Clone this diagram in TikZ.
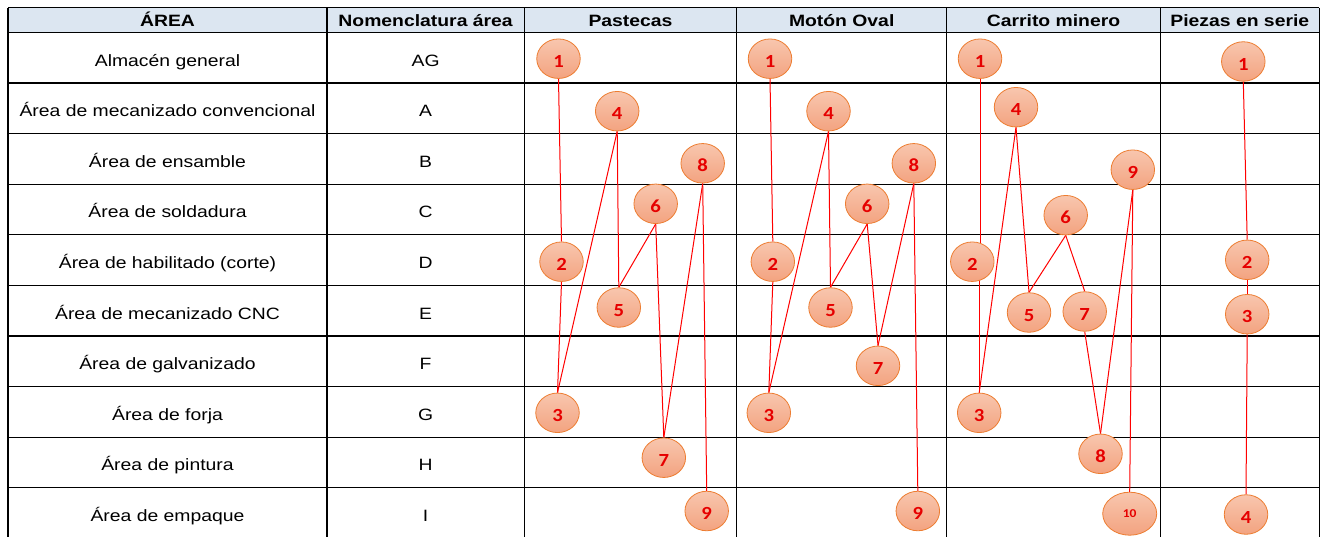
\documentclass[tikz,border=0pt]{standalone}
\usepackage{fontspec}
\setmainfont{Liberation Sans}[FakeStretch=1.18]
\newfontfamily\numfont{Carlito}[FakeStretch=1.12]
\usetikzlibrary{shapes.geometric}
\pgfdeclarelayer{back}
\pgfdeclarelayer{links}
\pgfsetlayers{back,links,main}
\definecolor{hdr}{RGB}{220,230,241}
\definecolor{ebord}{RGB}{237,125,49}
\definecolor{etop}{RGB}{248,198,174}
\definecolor{ebot}{RGB}{243,163,128}
\definecolor{numred}{RGB}{230,0,0}
\definecolor{flow}{RGB}{255,0,0}
\begin{document}
\begin{tikzpicture}[x=1pt,y=-1pt,
  gridline/.style={draw=black,line width=1.2pt},
  celltext/.style={anchor=base,font=\fontsize{16.4}{18}\selectfont,inner sep=0},
  hdrtext/.style={anchor=base,font=\fontsize{16.4}{18}\selectfont\bfseries,inner sep=0},
  stp/.style={ellipse,draw=ebord,line width=0.8pt,top color=etop,bottom color=ebot,
    minimum width=43.5pt,minimum height=39.5pt,inner sep=0,text height=17pt,text depth=0pt,
    font=\numfont\bfseries\fontsize{18.5}{20}\selectfont,text=numred},
  bigstp/.style={stp,minimum width=54pt,minimum height=43pt,text height=7.5pt,
    font=\numfont\bfseries\fontsize{12}{13}\selectfont},
  flowline/.style={draw=flow,line width=1pt}]
\useasboundingbox (0,0) rectangle (1324,536);
\begin{pgfonlayer}{back}
\fill[white] (0,0) rectangle (1324,536);
% header band
\fill[hdr] (8,7.5) rectangle (1319.3,32.3);
% grid
\foreach \yy in {7.5,32.3,82.9,133.5,184.1,234.7,285.3,335.9,386.5,437.1,487.7,538.3}
  \draw[gridline] (8,\yy) -- (1319.3,\yy);
\foreach \xx in {8,327,524.3,736.7,946.7,1160.3,1319.3}
  \draw[gridline] (\xx,7.5) -- (\xx,538.3);
\end{pgfonlayer}
% header texts
\node[hdrtext] (h1) at (167.5,26.7) {ÁREA};
\node[hdrtext] (h2) at (425.6,26.7) {Nomenclatura área};
\node[hdrtext] (h3) at (630.5,26.7) {Pastecas};
\node[hdrtext] (h4) at (841.7,26.7) {Motón Oval};
\node[hdrtext] (h5) at (1053.5,26.7) {Carrito minero};
\node[hdrtext] (h6) at (1239.8,26.7) {Piezas en serie};
% row texts
\foreach \i/\na/\co in {0/Almacén general/AG,1/Área de mecanizado convencional/A,
  2/Área de ensamble/B,3/Área de soldadura/C,4/Área de habilitado (corte)/D,
  5/Área de mecanizado CNC/E,6/Área de galvanizado/F,7/Área de forja/G,
  8/Área de pintura/H,9/Área de empaque/I}{
  \node[celltext] (na\i) at (167.5,66+50.6*\i) {\na};
  \node[celltext] (co\i) at (425.6,66+50.6*\i) {\co};
}
% Pastecas
\node[stp] (p1) at (558.5,58.7) {1};
\node[stp] (p2) at (561.5,261.7) {2};
\node[stp] (p3) at (557.5,412.8) {3};
\node[stp] (p4) at (617.2,111.2) {4};
\node[stp] (p5) at (618.8,307.5) {5};
\node[stp] (p6) at (655.7,203.8) {6};
\node[stp] (p7) at (663.8,457.7) {7};
\node[stp] (p8) at (702.7,163.3) {8};
\node[stp] (p9) at (706.7,511) {9};
% Moton Oval
\node[stp] (m1) at (770,58.7) {1};
\node[stp] (m2) at (772.8,261.7) {2};
\node[stp] (m3) at (768.8,412.8) {3};
\node[stp] (m4) at (828.5,111.2) {4};
\node[stp] (m5) at (830.5,307.5) {5};
\node[stp] (m6) at (867.2,203.8) {6};
\node[stp] (m7) at (878,365.8) {7};
\node[stp] (m8) at (913.8,163.3) {8};
\node[stp] (m9) at (917.8,511) {9};
% Carrito minero
\node[stp] (c1) at (980,58.7) {1};
\node[stp] (c2) at (972.3,261.7) {2};
\node[stp] (c3) at (979.2,412.8) {3};
\node[stp] (c4) at (1016,107.2) {4};
\node[stp] (c5) at (1029,312.5) {5};
\node[stp] (c6) at (1065.7,215.2) {6};
\node[stp] (c7) at (1084.7,311.5) {7};
\node[stp] (c8) at (1100.5,453.8) {8};
\node[stp] (c9) at (1132.8,169.7) {9};
\node[bigstp] (c10) at (1129.7,513.7) {10};
% Piezas en serie
\node[stp] (s1) at (1243.3,61.5) {1};
\node[stp] (s2) at (1247.2,259.8) {2};
\node[stp] (s3) at (1247.2,314.2) {3};
\node[stp] (s4) at (1246,514.5) {4};
\begin{pgfonlayer}{links}
\draw[flowline] (p1.south) -- (p2.north);
\draw[flowline] (p2.south) -- (p3.north);
\draw[flowline] (p3.north) -- (p4.south);
\draw[flowline] (p4.south) -- (p5.north);
\draw[flowline] (p5.north) -- (p6.south);
\draw[flowline] (p6.south) -- (p7.north);
\draw[flowline] (p7.north) -- (p8.south);
\draw[flowline] (p8.south) -- (p9.north);
\draw[flowline] (m1.south) -- (m2.north);
\draw[flowline] (m2.south) -- (m3.north);
\draw[flowline] (m3.north) -- (m4.south);
\draw[flowline] (m4.south) -- (m5.north);
\draw[flowline] (m5.north) -- (m6.south);
\draw[flowline] (m6.south) -- (m7.north);
\draw[flowline] (m7.north) -- (m8.south);
\draw[flowline] (m8.south) -- (m9.north);
\draw[flowline] (c1.south) -- (c1.south |- c2.center);
\draw[flowline] (c3.north |- c2.center) -- (c3.north);
\draw[flowline] (c3.north) -- (c4.south);
\draw[flowline] (c4.south) -- (c5.north);
\draw[flowline] (c5.north) -- (c6.south);
\draw[flowline] (c6.south) -- (c7.north);
\draw[flowline] (c7.south) -- (c8.north);
\draw[flowline] (c8.north) -- (c9.south);
\draw[flowline] (c9.south) -- (c10.north);
\draw[flowline] (s1.south) -- (s2.north);
\draw[flowline] (s2.south) -- (s3.north);
\draw[flowline] (s3.south) -- (s4.north);
\end{pgfonlayer}
\end{tikzpicture}
\end{document}
